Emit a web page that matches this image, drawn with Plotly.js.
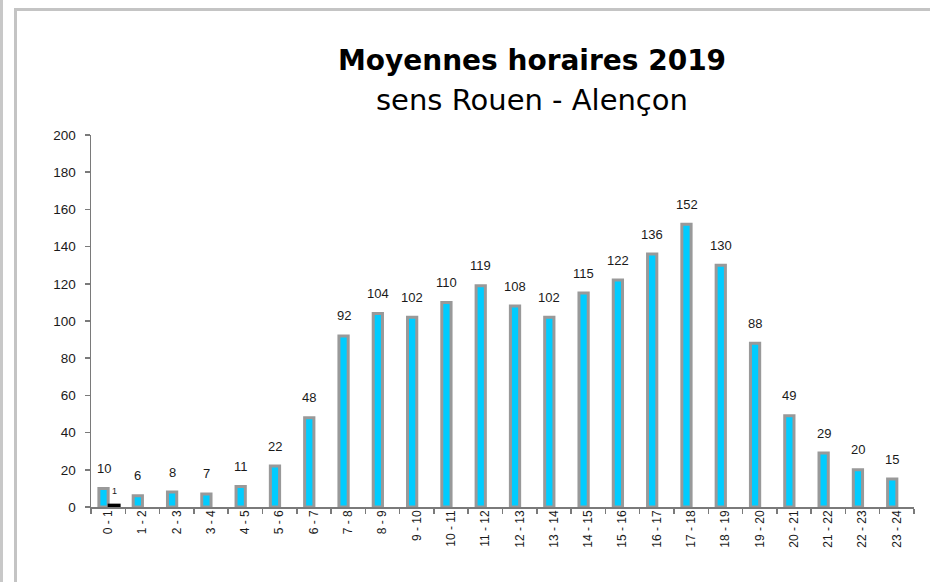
<!DOCTYPE html>
<html>
<head>
<meta charset="utf-8">
<script src="https://cdn.plot.ly/plotly-3.0.1.min.js"></script>
<style>
  html, body { margin: 0; padding: 0; background: #ffffff; }
  #wrap { position: relative; width: 930px; height: 582px; overflow: hidden; }
  #lineA { position: absolute; left: 0; top: 0; width: 3px; height: 582px; background: #c8c8c8; }
  #frame { position: absolute; left: 14px; top: 8px; width: 1000px; height: 1000px;
           border-left: 3px solid #c4c4c4; border-top: 3px solid #c4c4c4; }
  #chart { position: absolute; left: 0; top: 0; width: 930px; height: 582px; }
</style>
</head>
<body>
<div id="wrap">
  <div id="lineA"></div>
  <div id="frame"></div>
  <div id="chart"></div>
</div>
<script>
const hours = ["0 - 1","1 - 2","2 - 3","3 - 4","4 - 5","5 - 6","6 - 7","7 - 8","8 - 9","9 - 10",
  "10 - 11","11 - 12","12 - 13","13 - 14","14 - 15","15 - 16","16 - 17","17 - 18","18 - 19",
  "19 - 20","20 - 21","21 - 22","22 - 23","23 - 24"];
const moyennes = [10, 6, 8, 7, 11, 22, 48, 92, 104, 102, 110, 119, 108, 102, 115, 122, 136, 152, 130, 88, 49, 29, 20, 15];
const secondSerie = [1, null, null, null, null, null, null, null, null, null, null, null,
  null, null, null, null, null, null, null, null, null, null, null, null];
const titre = "Moyennes horaires 2019";
const sousTitre = "sens Rouen - Alençon";
const yTicks = [0, 20, 40, 60, 80, 100, 120, 140, 160, 180, 200];

const labelFont = {family: "Liberation Sans, Arial, sans-serif", size: 13, color: "#1a1a1a"};

const traces = [
  {
    type: "bar", x: hours, y: moyennes,
    width: 0.27, offset: -0.27,
    marker: {color: "#00CCFF", line: {color: "#999999", width: 3}},
    hoverinfo: "x+y"
  },
  {
    type: "bar", x: hours, y: secondSerie,
    width: 0.29, offset: 0.03,
    marker: {color: "#000000", line: {color: "#000000", width: 3}},
    hoverinfo: "x+y"
  }
];

const annotations = [];
moyennes.forEach((v, i) => {
  annotations.push({
    x: hours[i], y: v, xref: "x", yref: "y",
    text: String(v), showarrow: false,
    xshift: -4.6, yshift: 20, yanchor: "middle", xanchor: "center",
    font: labelFont
  });
});
secondSerie.forEach((v, i) => {
  if (v === null) return;
  annotations.push({
    x: hours[i], y: v, xref: "x", yref: "y",
    text: String(v), showarrow: false,
    xshift: 6, yshift: 14, yanchor: "middle", xanchor: "center",
    font: {family: "Liberation Sans, Arial, sans-serif", size: 9, color: "#1a1a1a"}
  });
});
annotations.push({
  xref: "paper", yref: "paper", x: 0.536, y: 1.094,
  xanchor: "center", yanchor: "middle", showarrow: false,
  text: sousTitre,
  font: {family: "Comic Sans MS, DejaVu Sans, sans-serif", size: 29, color: "#000000"}
});

const layout = {
  width: 930, height: 582,
  margin: {l: 91, r: 16, t: 135, b: 75},
  paper_bgcolor: "rgba(0,0,0,0)",
  plot_bgcolor: "rgba(0,0,0,0)",
  showlegend: false,
  barmode: "overlay",
  title: {
    text: "<b>" + titre + "</b>",
    xref: "container", yref: "container",
    x: 532 / 930, y: 1 - 60 / 582,
    xanchor: "center", yanchor: "middle",
    font: {family: "Comic Sans MS, DejaVu Sans, sans-serif", size: 28, color: "#000000"}
  },
  xaxis: {
    type: "category",
    tickson: "boundaries",
    ticks: "outside", ticklen: 5, tickcolor: "#7a7a7a", tickwidth: 1.5,
    showline: true, linecolor: "#7a7a7a", linewidth: 1.5,
    showgrid: false, zeroline: false,
    tickangle: -90,
    ticklabelstandoff: -3,
    tickfont: {family: "Liberation Sans, Arial, sans-serif", size: 12, color: "#1a1a1a"}
  },
  yaxis: {
    range: [0, 200],
    tickvals: yTicks,
    ticks: "outside", ticklen: 5, tickcolor: "#7a7a7a", tickwidth: 1.5,
    showline: true, linecolor: "#7a7a7a", linewidth: 1.5,
    showgrid: false, zeroline: false,
    ticklabelstandoff: 6,
    tickfont: {family: "Liberation Sans, Arial, sans-serif", size: 13.5, color: "#1a1a1a"}
  },
  annotations: annotations
};

Plotly.newPlot("chart", traces, layout, {displayModeBar: false, staticPlot: true});
</script>
</body>
</html>
